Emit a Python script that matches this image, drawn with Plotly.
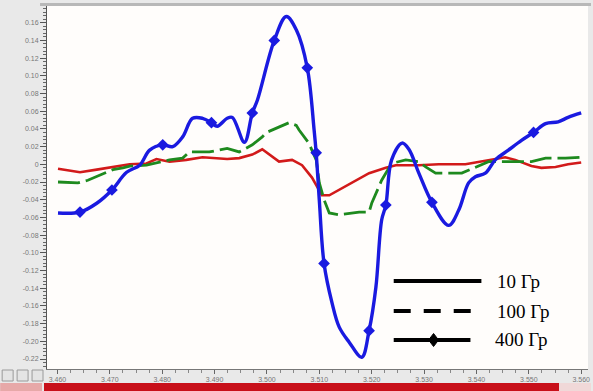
import numpy as np
import plotly.graph_objects as go

# ---- data ----
blue_x = [3.4601, 3.4643, 3.4675, 3.4704, 3.4732, 3.4757, 3.4776, 3.4801, 3.4820, 3.4839,
          3.4858, 3.4877, 3.4894, 3.4905, 3.4924, 3.4934, 3.4957, 3.4972, 3.4982, 3.5014,
          3.5037, 3.5056, 3.5077, 3.5090, 3.5094, 3.5100, 3.5109, 3.5124, 3.5138, 3.5157,
          3.5181, 3.5195, 3.5208, 3.5219, 3.5227, 3.5238, 3.5258, 3.5271, 3.5290, 3.5315,
          3.5347, 3.5366, 3.5385, 3.5398, 3.5417, 3.5436, 3.5461, 3.5486, 3.5509, 3.5532,
          3.5556, 3.5575, 3.5600]
blue_y = [-0.055, -0.054, -0.044, -0.029, -0.009, -0.001, 0.016, 0.022, 0.020, 0.031,
          0.052, 0.052, 0.047, 0.043, 0.052, 0.053, 0.025, 0.058, 0.073, 0.140,
          0.167, 0.152, 0.109, 0.039, 0.013, -0.041, -0.112, -0.156, -0.184, -0.201,
          -0.218, -0.188, -0.139, -0.063, -0.046, 0.005, 0.024, 0.017, -0.010, -0.043,
          -0.069, -0.052, -0.021, -0.014, -0.010, 0.005, 0.016, 0.027, 0.036, 0.046,
          0.048, 0.053, 0.058]
blue_marker_x = [3.4643, 3.4704, 3.4801, 3.4894, 3.4972, 3.5014, 3.5077, 3.5094, 3.5109,
                 3.5195, 3.5227, 3.5315, 3.5509]

green_x = [3.4601, 3.4639, 3.4658, 3.4706, 3.4725, 3.4738, 3.4770, 3.4814, 3.4839, 3.4852,
           3.4890, 3.4924, 3.4947, 3.4972, 3.4991, 3.4999, 3.5042, 3.5056, 3.5061, 3.5080,
           3.5094, 3.5100, 3.5109, 3.5119, 3.5138, 3.5176, 3.5195, 3.5200, 3.5219, 3.5238,
           3.5265, 3.5290, 3.5303, 3.5322, 3.5372, 3.5423, 3.5461, 3.5505, 3.5532, 3.5570,
           3.5600]
green_y = [-0.020, -0.021, -0.018, -0.006, -0.004, -0.002, -0.001, 0.005, 0.007, 0.014,
           0.014, 0.018, 0.014, 0.022, 0.031, 0.036, 0.047, 0.044, 0.039, 0.024,
           0.005, -0.021, -0.040, -0.055, -0.057, -0.054, -0.054, -0.044, -0.018, 0.001,
           0.005, 0.003, -0.003, -0.010, -0.010, 0.003, 0.003, 0.003, 0.007, 0.007,
           0.008]

red_x = [3.4601, 3.4643, 3.4675, 3.4713, 3.4738, 3.4770, 3.4789, 3.4814, 3.4846, 3.4877,
         3.4904, 3.4924, 3.4947, 3.4972, 3.4991, 3.5004, 3.5023, 3.5048, 3.5067, 3.5086,
         3.5105, 3.5119, 3.5143, 3.5170, 3.5195, 3.5227, 3.5246, 3.5290, 3.5328, 3.5379,
         3.5417, 3.5455, 3.5474, 3.5505, 3.5524, 3.5551, 3.5575, 3.5600]
red_y = [-0.005, -0.009, -0.006, -0.002, 0.000, 0.001, 0.006, 0.003, 0.005, 0.008,
         0.007, 0.006, 0.007, 0.011, 0.017, 0.011, 0.003, 0.005, -0.001, -0.015,
         -0.035, -0.035, -0.027, -0.018, -0.010, -0.004, -0.001, -0.001, 0.000, 0.000,
         0.004, 0.008, 0.005, -0.002, -0.004, -0.003, 0.000, 0.002]

y_ticks = [0.16, 0.14, 0.12, 0.10, 0.08, 0.06, 0.04, 0.02, 0, -0.02, -0.04, -0.06, -0.08,
           -0.10, -0.12, -0.14, -0.16, -0.18, -0.20, -0.22]
y_ticktext = ["0" if v == 0 else f"{v:.2f}" for v in y_ticks]
legend_labels = ["10 Гр", "100 Гр", "400 Гр"]

BLUE = "#1a1ae0"
RED = "#d21a1a"
GREEN = "#1e8a1e"

fig = go.Figure()
fig.add_trace(go.Scatter(x=red_x, y=red_y, mode="lines",
                         line=dict(color=RED, width=2.6), showlegend=False))
fig.add_trace(go.Scatter(x=green_x, y=green_y, mode="lines",
                         line=dict(color=GREEN, width=2.8, dash="22px,6px"), showlegend=False))
fig.add_trace(go.Scatter(x=blue_x, y=blue_y, mode="lines", line_shape="spline",
                         line=dict(color=BLUE, width=3.4), showlegend=False))
fig.add_trace(go.Scatter(x=blue_marker_x, y=np.interp(blue_marker_x, blue_x, blue_y),
                         mode="markers", marker=dict(symbol="diamond", size=9, color=BLUE),
                         showlegend=False))

# ---- layout geometry helpers (plot area 47..590 x 6..369 px) ----
L, R, T, B = 47, 3, 6, 22
W, H = 593, 391
pw, ph = W - L - R, H - T - B


def px(x):
    return (x - L) / pw


def py(y):
    return (H - B - y) / ph


shapes = []
# legend lines
shapes.append(dict(type="line", xref="paper", yref="paper", x0=px(395), x1=px(483),
                   y0=py(281), y1=py(281), line=dict(color="black", width=4)))
shapes.append(dict(type="line", xref="paper", yref="paper", x0=px(395), x1=px(475),
                   y0=py(311), y1=py(311), line=dict(color="black", width=4, dash="17px,13px")))
shapes.append(dict(type="line", xref="paper", yref="paper", x0=px(395), x1=px(472),
                   y0=py(340), y1=py(340), line=dict(color="black", width=4)))
cx, cy = px(435), py(340)
dx, dy = 5 / pw, 6.5 / ph
shapes.append(dict(type="path", xref="paper", yref="paper",
                   path=f"M {cx-dx},{cy} L {cx},{cy+dy} L {cx+dx},{cy} L {cx},{cy-dy} Z",
                   fillcolor="black", line=dict(color="black", width=1)))
# window chrome: top border, bottom status bar, buttons
shapes.append(dict(type="rect", xref="paper", yref="paper", x0=px(40), x1=px(593),
                   y0=py(6), y1=py(3), fillcolor="#b8b8b8", line=dict(width=0), layer="above"))
shapes.append(dict(type="rect", xref="paper", yref="paper", x0=px(0), x1=px(42),
                   y0=py(391), y1=py(383), fillcolor="#e7a8a8", line=dict(width=0)))
shapes.append(dict(type="rect", xref="paper", yref="paper", x0=px(44), x1=px(561),
                   y0=py(391), y1=py(383), fillcolor="#c8101a", line=dict(width=0)))
shapes.append(dict(type="rect", xref="paper", yref="paper", x0=px(561), x1=px(593),
                   y0=py(391), y1=py(383), fillcolor="#f0d8d8", line=dict(width=0)))
for bx in (2, 17, 32):
    shapes.append(dict(type="rect", xref="paper", yref="paper", x0=px(bx), x1=px(bx + 11),
                       y0=py(381), y1=py(370), fillcolor="#e4e4e4",
                       line=dict(color="#9a9a9a", width=1)))

annotations = []
for lbl, ypix, xpix in zip(legend_labels, (281, 311, 339), (497, 497, 495)):
    annotations.append(dict(xref="paper", yref="paper", x=px(xpix), y=py(ypix),
                            text=lbl, showarrow=False, xanchor="left", yanchor="middle",
                            font=dict(family="Liberation Serif", size=19, color="black")))

fig.update_layout(
    width=W, height=H,
    margin=dict(l=L, r=R, t=T, b=B, pad=0),
    paper_bgcolor="#e9e9e9",
    plot_bgcolor="#fffdfb",
    shapes=shapes,
    annotations=annotations,
    xaxis=dict(range=[3.4580, 3.5613], tickmode="array",
               tickvals=[3.46 + 0.01 * i for i in range(11)], tickformat=".3f",
               ticks="outside", ticklen=4, tickcolor="#666", showgrid=False, zeroline=False,
               showline=True, linecolor="#777", linewidth=1,
               tickfont=dict(family="Arial", size=7, color="#777"),
               minor=dict(ticks="outside", dtick=0.0025, ticklen=3, tickcolor="#888")),
    yaxis=dict(range=[-0.2313, 0.1789], tickmode="array", tickvals=y_ticks,
               ticktext=y_ticktext, ticks="outside", ticklen=6, tickcolor="#555",
               showgrid=False, zeroline=False, showline=True, linecolor="#555", linewidth=1,
               tickfont=dict(family="Arial", size=7, color="#777"),
               minor=dict(ticks="outside", dtick=0.004, ticklen=3, tickcolor="#666")),
)

fig.write_html("out.html")
